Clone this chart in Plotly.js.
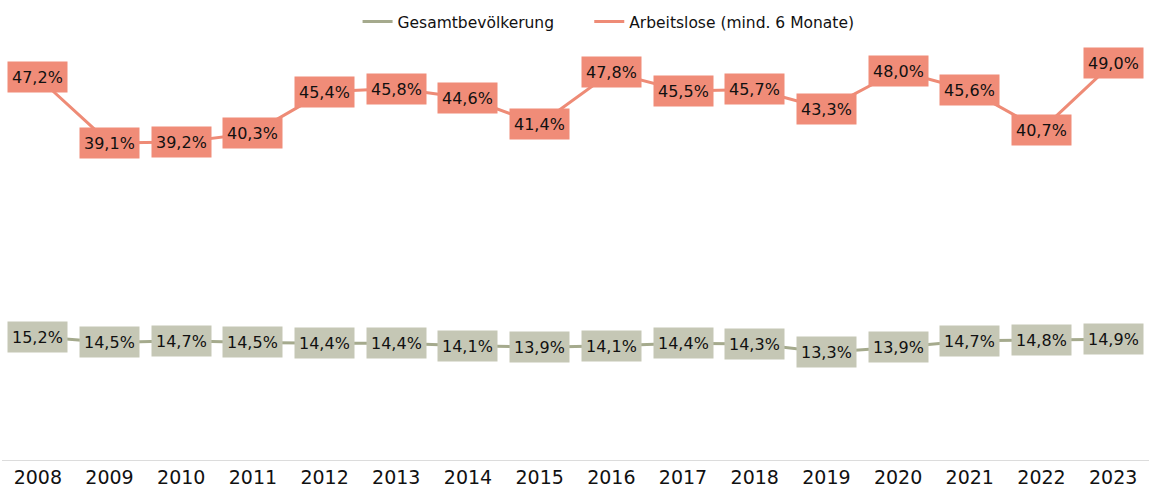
<!DOCTYPE html>
<html>
<head>
<meta charset="utf-8">
<script src="https://cdn.plot.ly/plotly-3.0.1.min.js"></script>
<style>html,body{margin:0;padding:0;background:#fff;}#chart{width:1149px;height:495px;}</style>
</head>
<body>
<div id="chart"></div>
<script>
const years = ['2008','2009','2010','2011','2012','2013','2014','2015','2016','2017','2018','2019','2020','2021','2022','2023'];
const gesamt = [15.2, 14.5, 14.7, 14.5, 14.4, 14.4, 14.1, 13.9, 14.1, 14.4, 14.3, 13.3, 13.9, 14.7, 14.8, 14.9];
const arbeitslose = [47.2, 39.1, 39.2, 40.3, 45.4, 45.8, 44.6, 41.4, 47.8, 45.5, 45.7, 43.3, 48.0, 45.6, 40.7, 49.0];
const seriesNames = ['Gesamtbevölkerung', 'Arbeitslose (mind. 6 Monate)'];

const greenLine = '#a5aa8d', greenBox = '#c5c7b5';
const orangeLine = '#ee8b76', orangeBox = '#f08c78';
const fontFam = '"DejaVu Sans", sans-serif';

const fmt = v => v.toFixed(1).replace('.', ',') + '%';

const traces = [
  {x: years, y: gesamt, name: seriesNames[0], type: 'scatter', mode: 'lines',
   line: {color: greenLine, width: 3}, hoverinfo: 'skip', legend: 'legend'},
  {x: years, y: arbeitslose, name: seriesNames[1], type: 'scatter', mode: 'lines',
   line: {color: orangeLine, width: 3}, hoverinfo: 'skip', legend: 'legend2'}
];

const annotations = [];
function addLabels(vals, bg) {
  vals.forEach((v, i) => {
    annotations.push({
      // category axes: annotation x is the category's serial index
      x: i, y: v, xref: 'x', yref: 'y', text: fmt(v), showarrow: false,
      bgcolor: bg, borderpad: 4, height: 22, valign: 'middle',
      font: {family: fontFam, size: 16, color: '#111'}
    });
  });
}
addLabels(gesamt, greenBox);
addLabels(arbeitslose, orangeBox);

const legendBase = {orientation: 'h', xanchor: 'left', y: 0.982, yanchor: 'middle',
  font: {family: fontFam, size: 15.5, color: '#111'}, itemwidth: 30, bgcolor: 'rgba(0,0,0,0)'};

const layout = {
  width: 1149, height: 495,
  margin: {l: 2, r: 0, t: 14, b: 35},
  paper_bgcolor: '#fff', plot_bgcolor: '#fff',
  showlegend: true,
  legend: Object.assign({}, legendBase, {x: 0.310}),
  legend2: Object.assign({}, legendBase, {x: 0.512}),
  xaxis: {type: 'category', range: [-0.5, 15.5], showgrid: false, zeroline: false,
    showline: true, linecolor: '#dcdcdc', linewidth: 1, ticks: '',
    tickfont: {family: fontFam, size: 19, color: '#111'}},
  yaxis: {range: [0, 55], visible: false, showgrid: false, zeroline: false, fixedrange: true},
  annotations: annotations
};

Plotly.newPlot('chart', traces, layout, {displayModeBar: false, staticPlot: true});
</script>
</body>
</html>
